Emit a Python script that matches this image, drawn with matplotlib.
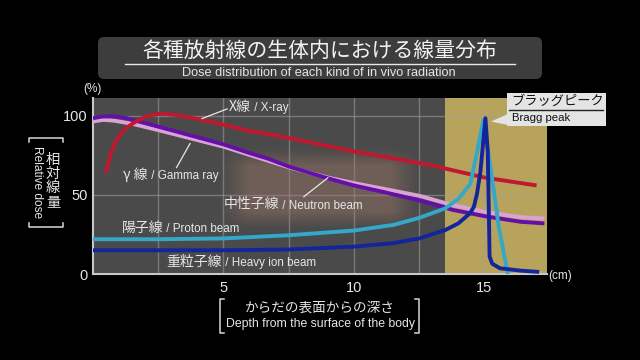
import numpy as np
import matplotlib
matplotlib.use("Agg")
import matplotlib.pyplot as plt
from matplotlib.lines import Line2D
from matplotlib.patches import FancyBboxPatch, Polygon, Rectangle

# ---------------- data ----------------
xray_depth = [0.5, 0.6, 0.7, 0.85, 1.0, 1.25, 1.55, 1.8, 2.1, 2.6, 3.2, 4.2, 6.0, 7.5, 10.0, 12.9, 15.0, 16.0, 17.0]
xray_dose = [64, 71, 77, 83, 87.5, 92, 95.5, 97.8, 100, 101.5, 100.5, 97.5, 90.5, 86, 77.5, 69, 61, 58.5, 56]

gamma_depth = [0.0, 0.4, 0.8, 1.5, 2.5, 5.0, 7.5, 9.0, 10.0, 11.1, 12.5, 13.8, 15.1, 16.4, 17.3]
gamma_dose = [96.5, 97.5, 97, 95, 91, 80.5, 67.5, 61, 57.5, 54, 49.5, 43.5, 39, 36, 35]

neutron_depth = [0.0, 0.3, 0.7, 1.2, 2.5, 5.0, 6.0, 6.7, 7.5, 9.0, 10.0, 11.1, 12.5, 13.8, 15.1, 16.4, 17.3]
neutron_dose = [98.5, 99.5, 99.8, 99, 93.2, 82, 76.5, 73, 68, 60.5, 56, 52, 46.5, 40.5, 36.3, 33, 32]

proton_depth = [0.0, 2.5, 5.0, 7.5, 10.0, 11.5, 12.5, 13.5, 14.0, 14.46, 14.72, 14.85, 14.97, 15.3, 15.55, 15.9]
proton_dose = [22, 22, 22.5, 24.5, 27.5, 31, 35.5, 41.5, 47.5, 57, 77, 88, 97.5, 60, 30, 0]

heavy_depth = [0.0, 2.5, 5.0, 7.5, 10.0, 11.5, 12.5, 13.5, 14.0, 14.45, 14.6, 14.72, 14.85, 15.04, 15.13, 15.17, 15.2, 15.3, 15.6, 16.4, 17.1]
heavy_dose = [15, 15, 15, 15.5, 17.3, 19.5, 22.5, 27.8, 32, 38.4, 42.6, 51, 65, 98.5, 77, 40, 11, 6.5, 3.6, 2.1, 1.3]

y_ticks = [0, 50, 100]
x_ticks = [5, 10, 15]
bragg_region = [13.5, 17.4]

title_jp = "各種放射線の生体内における線量分布"
title_en = "Dose distribution of each kind of in vivo radiation"
ylabel_jp = "相対線量"
ylabel_en = "Relative dose"
xlabel_jp = "からだの表面からの深さ"
xlabel_en = "Depth from the surface of the body"

# ---------------- styling ----------------
JP = ["Noto Sans CJK JP", "DejaVu Sans"]
EN = ["Liberation Sans", "DejaVu Sans"]
TXT = "#e6e6e6"

W, H = 640, 360
fig = plt.figure(figsize=(W / 100, H / 100), dpi=100, facecolor="black")

def fx(x):
    return x / W

def fy(y):
    return 1 - y / H

ax = fig.add_axes([fx(93), fy(274), (547 - 93) / W, (274 - 97.7) / H])
ax.set_facecolor("#4a4a4a")
ax.set_xlim(0, 17.4)
ax.set_ylim(0, 111.5)

ax.axvspan(bragg_region[0], bragg_region[1], color="#b8a35d", zorder=0.5, lw=0)

# blurred photo-like patch in the background
ny, nx = 80, 160
gx = np.linspace(0, 1, nx)
gy = np.linspace(0, 1, ny)
ex = np.clip(np.minimum(gx, 1 - gx) / 0.15, 0, 1)
ey = np.clip(np.minimum(gy, 1 - gy) / 0.22, 0, 1)
alpha = np.outer(ey, ex) ** 1.2 * 0.45
img = np.zeros((ny, nx, 4))
img[..., 0] = 0.62
img[..., 1] = 0.47
img[..., 2] = 0.41
img[..., 3] = alpha
ax.imshow(img, extent=[4.8, 12.6, 28, 80], aspect="auto", zorder=0.8, interpolation="bilinear")

ax.set_xticks(x_ticks)
ax.set_xticks([2.5, 7.5, 12.5], minor=True)
ax.set_yticks(y_ticks)
ax.grid(True, which="both", color="#a0a0a0", lw=1.0, alpha=0.55, zorder=0.9)
ax.set_axisbelow(True)
ax.tick_params(which="both", length=0, colors=TXT, labelsize=10.5)
ax.tick_params(axis="y", pad=4)
ax.tick_params(axis="x", pad=5)
for lab in ax.get_xticklabels() + ax.get_yticklabels():
    lab.set_family(EN)
for s in ["top", "right"]:
    ax.spines[s].set_visible(False)
for s in ["left", "bottom"]:
    ax.spines[s].set_color("#c8c8c8")
    ax.spines[s].set_linewidth(1.5)

lw = 2.8
ax.plot(gamma_depth, gamma_dose, color="#d9a3d6", lw=lw, solid_capstyle="butt", zorder=3)
ax.plot(neutron_depth, neutron_dose, color="#6410a6", lw=lw, solid_capstyle="butt", zorder=3.1)
ax.plot(xray_depth, xray_dose, color="#c0182e", lw=lw, solid_capstyle="butt", zorder=3.2)
ax.plot(proton_depth, proton_dose, color="#34a8c8", lw=lw, solid_capstyle="butt", zorder=3.3)
ax.plot(heavy_depth, heavy_dose, color="#13259a", lw=lw, solid_capstyle="butt", zorder=3.4)

# ---------------- curve labels ----------------
def label(x, y, jp, en):
    t1 = ax.text(x, y, jp, family=JP, fontsize=10, color=TXT, va="center", ha="left", zorder=5)
    ax.annotate(" / " + en, xy=(1, 0.42), xycoords=t1, family=EN, fontsize=8.4,
                color=TXT, va="center", ha="left", zorder=5)

label(5.2, 105.5, "X線", "X-ray")
label(1.15, 63, "γ 線", "Gamma ray")
label(5.0, 44, "中性子線", "Neutron beam")
label(1.1, 29, "陽子線", "Proton beam")
label(2.8, 7.8, "重粒子線", "Heavy ion beam")

lead = dict(color="#e8e8e8", lw=0.9, zorder=4)
ax.plot([5.14, 4.18], [104.4, 98.3], **lead)
ax.plot([3.2, 3.72], [67.3, 82.5], **lead)
ax.plot([8.08, 9.0], [48.9, 60.8], **lead)

# ---------------- titles and axis labels ----------------
inch = fig.dpi_scale_trans
def pin(x, y):
    return (x / 100, (H - y) / 100)

fig.add_artist(FancyBboxPatch(pin(98, 79), 4.44, 0.42, boxstyle="round,pad=0,rounding_size=0.06",
                              transform=inch, facecolor="#3d3d3d", edgecolor="none"))
fig.text(fx(320), fy(51), title_jp, family=JP, fontsize=15, color="#f2f2f2", ha="center", va="center")
fig.add_artist(Line2D([fx(125), fx(515)], [fy(63.5), fy(63.5)], color="#e8e8e8", lw=1, transform=fig.transFigure))
fig.text(fx(319), fy(72.5), title_en, family=EN, fontsize=9.2, color="#e6e6e6", ha="center", va="center")

# y label
for i, ch in enumerate(ylabel_jp):
    fig.text(fx(53), fy(160 + i * 14.2), ch, family=JP, fontsize=10.3, color=TXT, ha="center", va="center")
fig.text(fx(37), fy(182), ylabel_en, family=EN, fontsize=8.6, color=TXT, rotation=270,
         ha="center", va="center")
bl = dict(color="#d8d8d8", lw=1.1, transform=fig.transFigure)
fig.add_artist(Line2D([fx(29), fx(29), fx(63), fx(63)], [fy(142), fy(138), fy(138), fy(142)], **bl))
fig.add_artist(Line2D([fx(29), fx(29), fx(63), fx(63)], [fy(223), fy(227), fy(227), fy(223)], **bl))

fig.text(fx(92), fy(89), "(%)", family=EN, fontsize=8.5, color=TXT, ha="center", va="center")
fig.text(fx(560), fy(276), "(cm)", family=EN, fontsize=8.5, color=TXT, ha="center", va="center")

# x label
fig.text(fx(320), fy(308), xlabel_jp, family=JP, fontsize=9.8, color=TXT, ha="center", va="center")
fig.text(fx(320), fy(323.5), xlabel_en, family=EN, fontsize=8.8, color=TXT, ha="center", va="center")
fig.add_artist(Line2D([fx(224), fx(220), fx(220), fx(224)], [fy(299), fy(299), fy(333), fy(333)], **bl))
fig.add_artist(Line2D([fx(415), fx(419), fx(419), fx(415)], [fy(299), fy(299), fy(333), fy(333)], **bl))

# Bragg peak callout
fig.add_artist(Polygon([pin(508, 114), pin(491, 121.5), pin(513, 126)], closed=True, transform=inch,
                       facecolor="#e4e4e4", edgecolor="none"))
fig.add_artist(Rectangle(pin(507, 126), 0.99, 0.33, transform=inch, facecolor="#e4e4e4", edgecolor="none"))
fig.text(fx(511), fy(101), "ブラッグピーク", family=JP, fontsize=9.5, color="#111111", ha="left", va="center")
fig.add_artist(Line2D([fx(509), fx(603)], [fy(110), fy(110)], color="#222222", lw=1, transform=fig.transFigure))
fig.text(fx(512), fy(118.5), "Bragg peak", family=EN, fontsize=8.2, color="#111111", ha="left", va="center")

fig.savefig("out.png", dpi=100, facecolor="black")
